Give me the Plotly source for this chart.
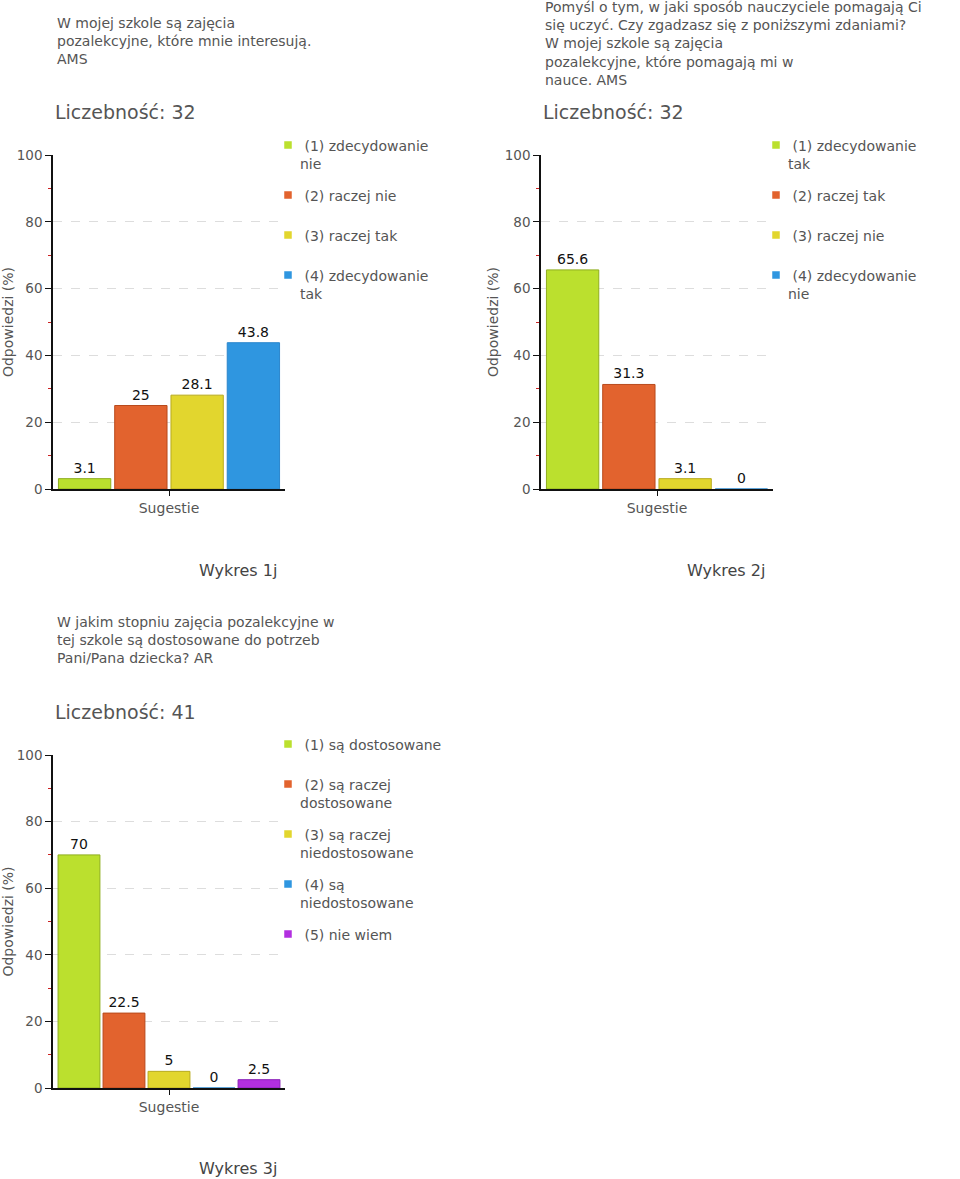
import plotly.graph_objects as go

W, H = 960, 1179

# ---------------- data ----------------
category = "Sugestie"
y_ticks = [0, 20, 40, 60, 80, 100]

c1_title = ["W mojej szkole są zajęcia",
            "pozalekcyjne, które mnie interesują.",
            "AMS"]
c1_n = 32
c1_labels = ["(1) zdecydowanie<br>nie", "(2) raczej nie", "(3) raczej tak",
             "(4) zdecydowanie<br>tak"]
c1_values = [3.1, 25, 28.1, 43.8]
c1_caption = "Wykres 1j"

c2_title = ["Pomyśl o tym, w jaki sposób nauczyciele pomagają Ci",
            "się uczyć. Czy zgadzasz się z poniższymi zdaniami?",
            "W mojej szkole są zajęcia",
            "pozalekcyjne, które pomagają mi w",
            "nauce. AMS"]
c2_n = 32
c2_labels = ["(1) zdecydowanie<br>tak", "(2) raczej tak", "(3) raczej nie",
             "(4) zdecydowanie<br>nie"]
c2_values = [65.6, 31.3, 3.1, 0]
c2_caption = "Wykres 2j"

c3_title = ["W jakim stopniu zajęcia pozalekcyjne w",
            "tej szkole są dostosowane do potrzeb",
            "Pani/Pana dziecka? AR"]
c3_n = 41
c3_labels = ["(1) są dostosowane", "(2) są raczej<br>dostosowane",
             "(3) są raczej<br>niedostosowane", "(4) są<br>niedostosowane",
             "(5) nie wiem"]
c3_values = [70, 22.5, 5, 0, 2.5]
c3_caption = "Wykres 3j"

fill_colors = ["#bbe02e", "#e2632e", "#e2d62e", "#2f96e0", "#b22fe0"]
line_colors = ["#8fae1e", "#b84a1c", "#b8aa1e", "#2a86cc", "#8a22b8"]

# ---------------- layout helpers ----------------
FONT = "DejaVu Sans"
GRAY = "#555555"


def px_x(x):
    return x / W


def px_y(y):
    return 1 - y / H


panels = [
    dict(title=c1_title, n=c1_n, labels=c1_labels, values=c1_values, caption=c1_caption,
         x0=53, x1=285, ytop=155, ybot=489, title_x=55, title_cy=41, n_y=112,
         leg_x=288, leg_y=145, cap_y=570),
    dict(title=c2_title, n=c2_n, labels=c2_labels, values=c2_values, caption=c2_caption,
         x0=541, x1=773, ytop=155, ybot=489, title_x=543, title_cy=43, n_y=112,
         leg_x=776, leg_y=145, cap_y=570),
    dict(title=c3_title, n=c3_n, labels=c3_labels, values=c3_values, caption=c3_caption,
         x0=53, x1=285, ytop=755, ybot=1088, title_x=55, title_cy=640, n_y=712,
         leg_x=288, leg_y=744, cap_y=1168),
]

fig = go.Figure()
annotations = []
shapes = []
layout_axes = {}

for i, p in enumerate(panels, start=1):
    xa = "x" if i == 1 else f"x{i}"
    ya = "y" if i == 1 else f"y{i}"
    for k, (lab, val) in enumerate(zip(p["labels"], p["values"])):
        fig.add_trace(go.Bar(
            x=[category], y=[val], name=lab.replace("<br>", " "),
            xaxis=xa, yaxis=ya,
            marker=dict(color=fill_colors[k], line=dict(color=line_colors[k], width=1)),
            text=[f"{val:g}"], textposition="outside",
            textfont=dict(family=FONT, size=14, color="#111111"),
            cliponaxis=False, showlegend=False, hoverinfo="skip",
        ))

    xkey = "xaxis" if i == 1 else f"xaxis{i}"
    ykey = "yaxis" if i == 1 else f"yaxis{i}"
    layout_axes[xkey] = dict(
        domain=[px_x(p["x0"]), px_x(p["x1"])], anchor=ya, automargin=False,
        type="category", showline=True, linecolor="#111111", linewidth=1.5,
        ticks="outside", ticklen=5, tickcolor="#111111",
        tickfont=dict(family=FONT, size=14, color=GRAY),
        showgrid=False, zeroline=False, fixedrange=True,
    )
    layout_axes[ykey] = dict(
        domain=[px_y(p["ybot"]), px_y(p["ytop"])], anchor=xa, automargin=False,
        range=[0, 100], tickvals=y_ticks,
        showline=True, linecolor="#111111", linewidth=1.5,
        ticks="outside", ticklen=6, tickcolor="#111111",
        minor=dict(dtick=10, ticks="outside", ticklen=3, tickcolor="#cc2222", showgrid=False),
        tickfont=dict(family=FONT, size=13.5, color=GRAY),
        showgrid=True, gridcolor="#dddddd", griddash="dash", gridwidth=1,
        zeroline=False, fixedrange=True,
        title=dict(text="Odpowiedzi (%)", font=dict(family=FONT, size=14, color=GRAY), standoff=3),
    )

    # question title (one multi-line text block)
    annotations.append(dict(
        x=px_x(p["title_x"]), y=px_y(p["title_cy"]), xref="paper", yref="paper",
        xanchor="left", yanchor="middle", align="left", showarrow=False,
        text="<br>".join(p["title"]),
        font=dict(family=FONT, size=14, color=GRAY),
    ))
    # sample size
    annotations.append(dict(
        x=px_x(p["title_x"] - 2), y=px_y(p["n_y"]), xref="paper", yref="paper",
        xanchor="left", yanchor="middle", showarrow=False, text=f"Liczebność: {p['n']}",
        font=dict(family=FONT, size=19, color=GRAY),
    ))
    # caption
    annotations.append(dict(
        x=px_x((p["x0"] + p["x1"]) / 2 + 69), y=px_y(p["cap_y"]), xref="paper", yref="paper",
        xanchor="center", yanchor="middle", showarrow=False, text=p["caption"],
        font=dict(family=FONT, size=16, color="#444444"),
    ))
    # custom legend
    ly = p["leg_y"]
    for k, lab in enumerate(p["labels"]):
        nlines = lab.count("<br>") + 1
        shapes.append(dict(
            type="rect", xref="paper", yref="paper",
            x0=px_x(p["leg_x"] - 4), x1=px_x(p["leg_x"] + 4),
            y0=px_y(ly + 4), y1=px_y(ly - 4),
            fillcolor=fill_colors[k], line=dict(color="#ffffff", width=0.5),
        ))
        annotations.append(dict(
            x=px_x(p["leg_x"] + 10), y=px_y(ly - 9), xref="paper", yref="paper",
            xanchor="left", yanchor="top", align="left", showarrow=False,
            text=" " + lab,
            font=dict(family=FONT, size=14, color=GRAY),
        ))
        ly += 30 + 10 * nlines

fig.update_layout(
    width=W, height=H, autosize=False,
    margin=dict(l=0, r=0, t=0, b=0, pad=0, autoexpand=False),
    paper_bgcolor="white", plot_bgcolor="white",
    barmode="group", bargap=0.03, bargroupgap=0.07,
    annotations=annotations, shapes=shapes,
    showlegend=False,
    **layout_axes,
)

# remove the browser's default 8px body margin so the figure fills the window exactly
fig.write_html(
    "out.html",
    config={"displayModeBar": False, "responsive": False},
    post_script="document.body.style.margin='0px';",
)
